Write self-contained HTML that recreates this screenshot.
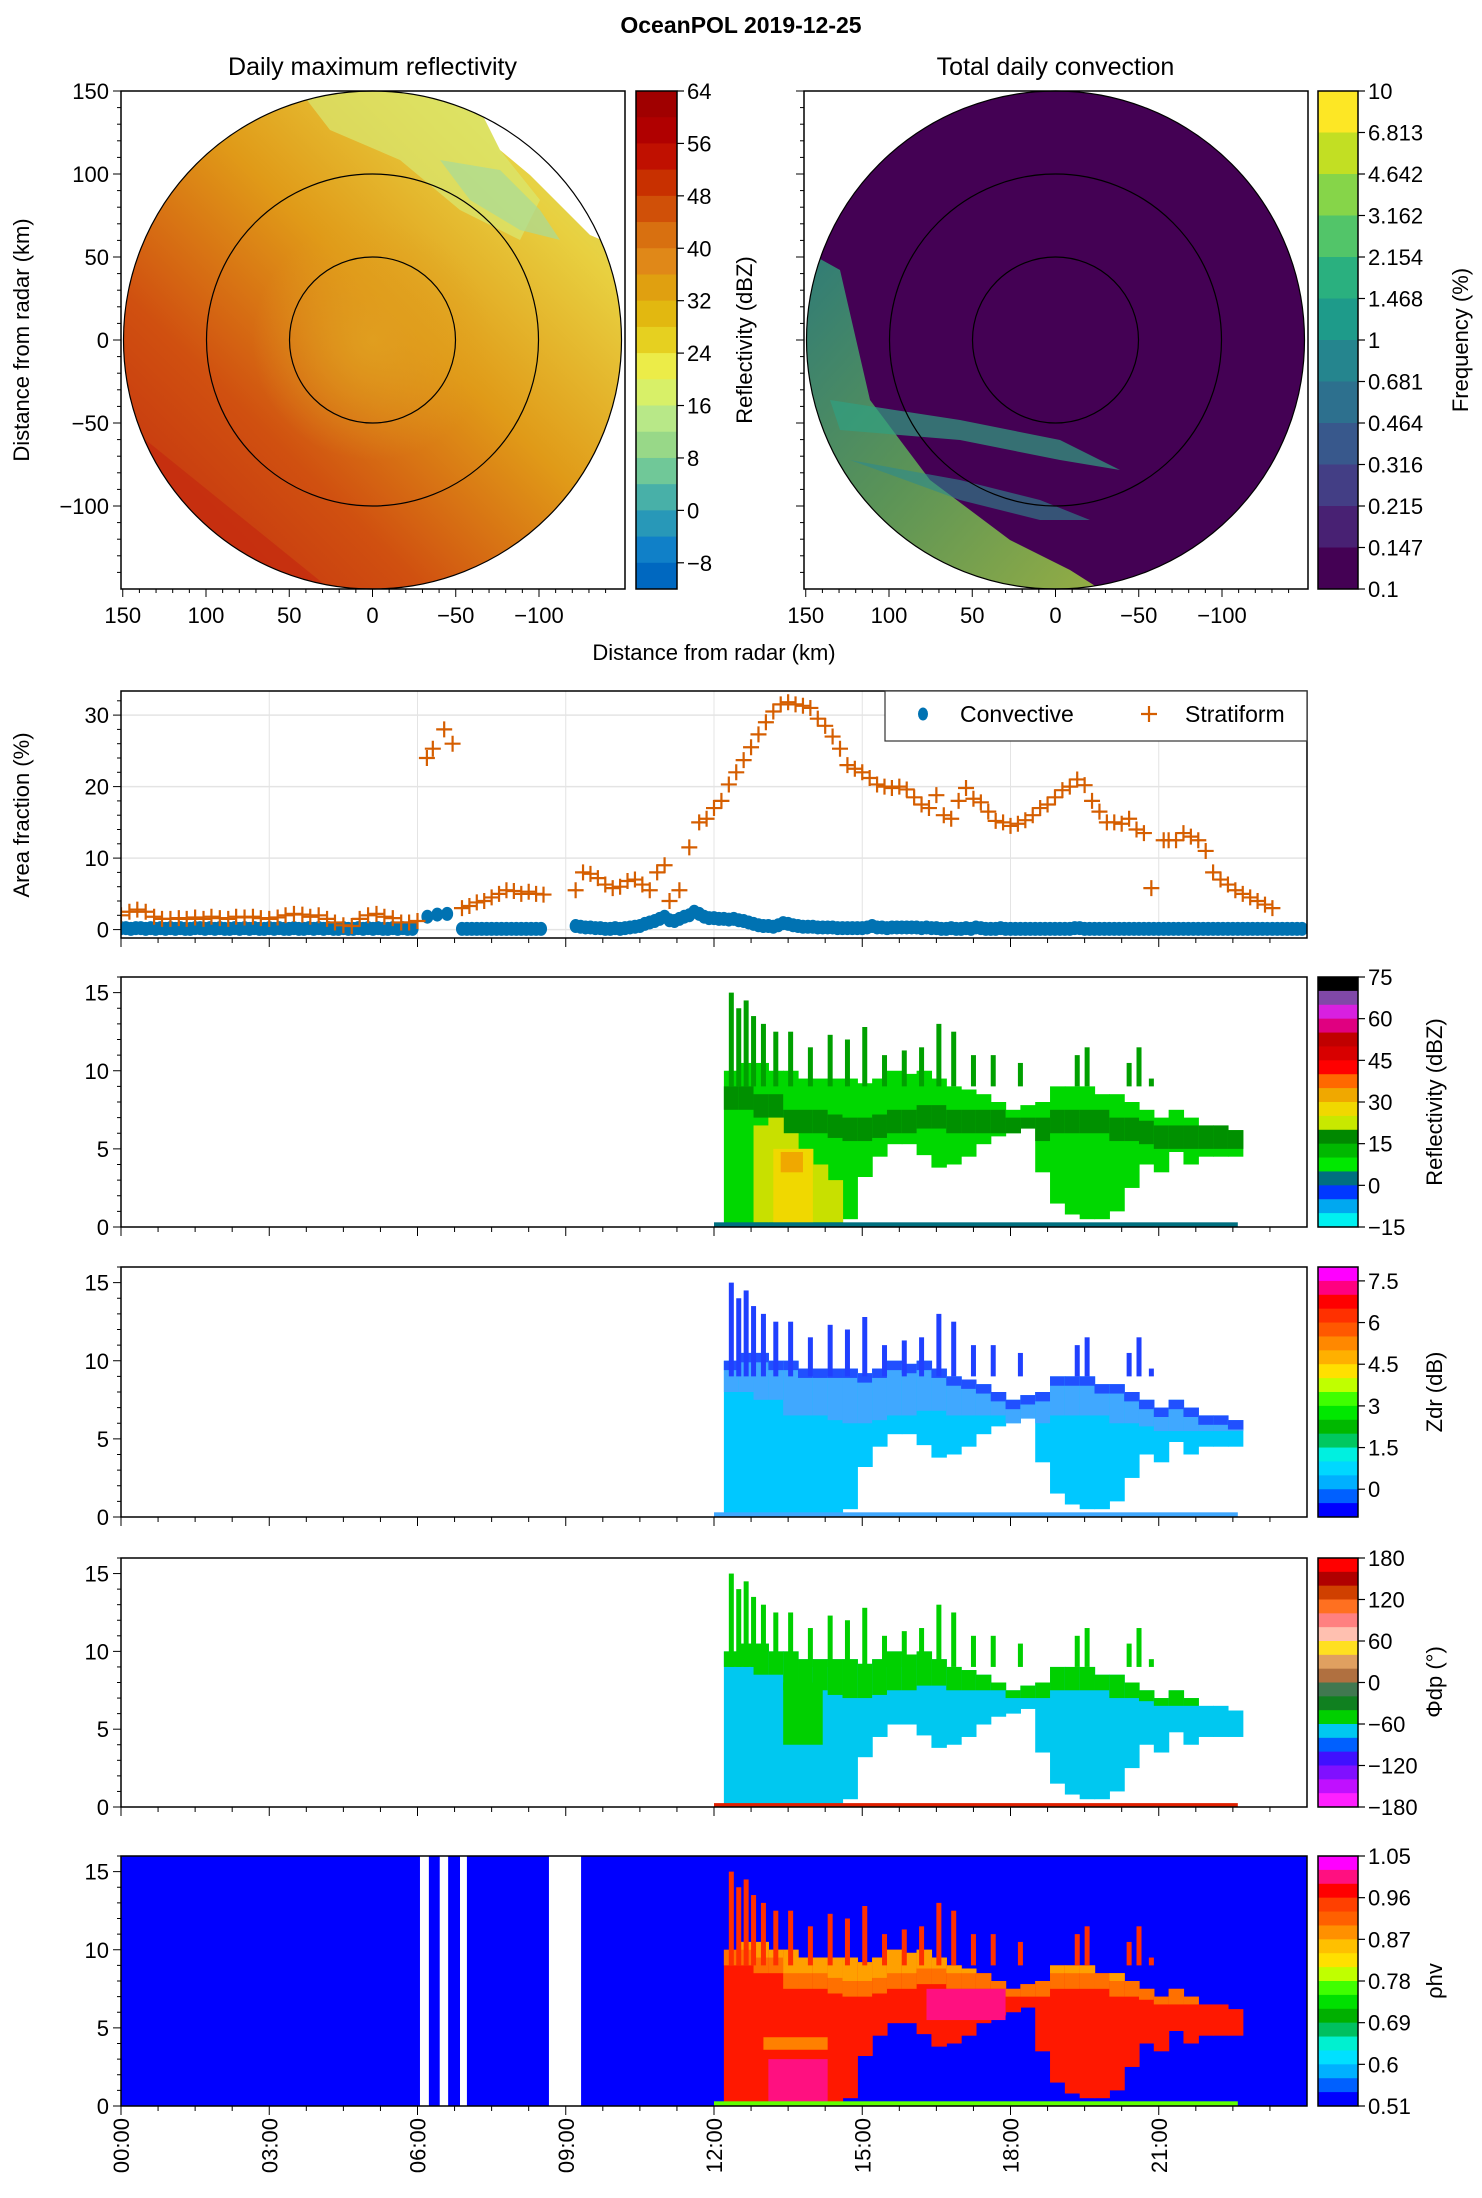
<!DOCTYPE html>
<html><head><meta charset="utf-8"><style>
html,body{margin:0;padding:0;background:#fff;}
svg{display:block;font-family:"Liberation Sans",sans-serif;}
</style></head><body>
<svg id="fig" width="1482" height="2198" viewBox="0 0 1482 2198" xmlns="http://www.w3.org/2000/svg">
<defs>
<clipPath id="clipL"><circle cx="372.5" cy="340" r="249"/></clipPath>
<clipPath id="clipR"><circle cx="1055.5" cy="340" r="249"/></clipPath>
<linearGradient id="gL" x1="0" y1="1" x2="1" y2="0">
<stop offset="0" stop-color="#c02810"/><stop offset="0.3" stop-color="#d05010"/><stop offset="0.55" stop-color="#e09a18"/><stop offset="0.8" stop-color="#e8d040"/><stop offset="1" stop-color="#d8e870"/>
</linearGradient>
<radialGradient id="gC" cx="0.5" cy="0.5" r="0.5"><stop offset="0" stop-color="#e0a020" stop-opacity="0.9"/><stop offset="1" stop-color="#e0a020" stop-opacity="0"/></radialGradient>
<linearGradient id="gR" x1="0" y1="0" x2="1" y2="1"><stop offset="0" stop-color="#2a9a80"/><stop offset="0.5" stop-color="#60b858"/><stop offset="1" stop-color="#a8d840"/></linearGradient>
</defs>
<g id="root"></g>
</svg>
<script>
// ---------- data ----------
const stratT=[0,0.17,0.33,0.5,0.67,0.83,1,1.17,1.33,1.5,1.67,1.83,2,2.17,2.33,2.5,2.67,2.83,3,3.17,3.33,3.5,3.67,3.83,4,4.17,4.33,4.5,4.67,4.83,5,5.17,5.33,5.5,5.67,5.83,6,6.19,6.31,6.54,6.71,6.9,7.05,7.2,7.35,7.5,7.65,7.8,7.95,8.1,8.25,8.4,8.55,9.2,9.35,9.5,9.65,9.8,9.95,10.1,10.25,10.4,10.55,10.7,10.85,11.0,11.1,11.3,11.5,11.7,11.85,12.0,12.15,12.3,12.45,12.6,12.75,12.9,13.05,13.2,13.35,13.5,13.65,13.8,13.95,14.1,14.25,14.4,14.55,14.7,14.85,15.0,15.15,15.3,15.45,15.6,15.75,15.9,16.05,16.2,16.35,16.5,16.65,16.8,16.95,17.1,17.25,17.4,17.55,17.7,17.85,18.0,18.15,18.3,18.45,18.6,18.75,18.9,19.05,19.2,19.35,19.5,19.65,19.8,19.95,20.1,20.25,20.4,20.55,20.7,20.85,21.1,21.2,21.35,21.5,21.65,21.8,21.95,22.1,22.25,22.4,22.55,22.7,22.85,23.0,23.15,23.3,23.45,23.6,23.75,23.9];
const stratV=[2,2.5,2.8,2.5,1.8,1.5,1.5,1.6,1.5,1.7,1.5,1.8,1.6,1.5,1.8,1.7,1.8,1.6,1.5,1.7,2.0,2.2,2.1,1.8,2.0,1.5,1.0,0.6,0.5,1.5,2.0,2.2,1.8,1.6,1.0,1.0,1.2,24,25.3,28,26,3,3.3,3.8,4,4.5,5,5.5,5.4,5,5.3,5,4.9,5.5,8,7.8,7.2,6.3,5.8,6,6.8,7,6.3,5.5,8,9,4,5.5,11.5,15,15.5,17,18,20.3,22,23.7,25.5,27.3,29,30.5,31.5,31.8,31.5,31.3,31,29.5,28.5,27,25.3,23,22.5,22,21.2,20.3,20,19.8,20,19.6,18.5,17.5,17,18.8,16,15.5,18,19.8,18.3,17.8,16.5,15.2,15,14.5,14.8,15.3,16,17,17.5,18.5,19.5,20,21,20.2,18,16.5,15,15,14.8,15.5,14,13.5,5.8,12.5,12.5,12.5,13.5,13,12.5,11,8,7,6.3,5.5,5,4.5,4,3.5,3];
const convT=[0,0.1,0.2,0.3,0.4,0.5,0.6,0.7,0.8,0.9,1,1.1,1.2,1.3,1.4,1.5,1.6,1.7,1.8,1.9,2,2.1,2.2,2.3,2.4,2.5,2.6,2.7,2.8,2.9,3,3.1,3.2,3.3,3.4,3.5,3.6,3.7,3.8,3.9,4,4.1,4.2,4.3,4.4,4.5,4.6,4.7,4.8,4.9,5,5.1,5.2,5.3,5.4,5.5,5.6,5.7,5.8,5.9,6.2,6.4,6.6,6.9,7.0,7.1,7.2,7.3,7.4,7.5,7.6,7.7,7.8,7.9,8.0,8.1,8.2,8.3,8.4,8.5,9.2,9.3,9.4,9.5,9.6,9.7,9.8,9.9,10.0,10.1,10.2,10.3,10.4,10.5,10.6,10.7,10.8,10.9,11.0,11.1,11.2,11.3,11.4,11.5,11.6,11.7,11.8,11.9,12.0,12.1,12.2,12.3,12.4,12.5,12.6,12.7,12.8,12.9,13.0,13.1,13.2,13.3,13.4,13.5,13.6,13.7,13.8,13.9,14.0,14.1,14.2,14.3,14.4,14.5,14.6,14.7,14.8,14.9,15.0,15.1,15.2,15.3,15.4,15.5,15.6,15.7,15.8,15.9,16.0,16.1,16.2,16.3,16.4,16.5,16.6,16.7,16.8,16.9,17.0,17.1,17.2,17.3,17.4,17.5,17.6,17.7,17.8,17.9,18.0,18.1,18.2,18.3,18.4,18.5,18.6,18.7,18.8,18.9,19.0,19.1,19.2,19.3,19.4,19.5,19.6,19.7,19.8,19.9,20.0,20.1,20.2,20.3,20.4,20.5,20.6,20.7,20.8,20.9,21.0,21.1,21.2,21.3,21.4,21.5,21.6,21.7,21.8,21.9,22.0,22.1,22.2,22.3,22.4,22.5,22.6,22.7,22.8,22.9,23.0,23.1,23.2,23.3,23.4,23.5,23.6,23.7,23.8,23.9];
const convV=[0.2,0.2,0.1,0.2,0.2,0.1,0.2,0.1,0.2,0.1,0.2,0.1,0.2,0.1,0.1,0.2,0.2,0.1,0.2,0.1,0.2,0.1,0.1,0.2,0.1,0.2,0.1,0.2,0.1,0.1,0.2,0.1,0.2,0.1,0.1,0.2,0.1,0.1,0.2,0.1,0.2,0.1,0.2,0.1,0.1,0.2,0.1,0.1,0.2,0.1,0.2,0.1,0.2,0.1,0.1,0.2,0.1,0.2,0.1,0.1,1.8,2.1,2.2,0.1,0.1,0.1,0.1,0.1,0.1,0.1,0.1,0.1,0.1,0.1,0.1,0.1,0.1,0.1,0.1,0.1,0.5,0.4,0.3,0.3,0.2,0.2,0.1,0.1,0.2,0.1,0.2,0.3,0.4,0.5,0.8,1.0,1.2,1.5,1.8,1.3,1.2,1.5,1.8,2.0,2.5,2.2,1.8,1.6,1.6,1.5,1.5,1.4,1.5,1.3,1.2,1.0,0.8,0.6,0.5,0.5,0.4,0.6,0.9,0.8,0.6,0.5,0.4,0.4,0.4,0.3,0.3,0.3,0.3,0.2,0.2,0.2,0.2,0.2,0.2,0.3,0.5,0.3,0.3,0.2,0.3,0.3,0.3,0.3,0.3,0.3,0.2,0.3,0.2,0.2,0.1,0.1,0.2,0.1,0.1,0.2,0.1,0.3,0.2,0.1,0.1,0.1,0.2,0.1,0.1,0.1,0.1,0.1,0.1,0.1,0.1,0.1,0.1,0.1,0.1,0.1,0.1,0.2,0.2,0.1,0.1,0.1,0.1,0.1,0.1,0.1,0.1,0.1,0.1,0.1,0.1,0.1,0.1,0.1,0.1,0.1,0.1,0.1,0.1,0.1,0.1,0.1,0.1,0.1,0.1,0.1,0.1,0.1,0.1,0.1,0.1,0.1,0.1,0.1,0.1,0.1,0.1,0.1,0.1,0.1,0.1,0.1,0.1,0.1,0.1,0.1];
const echoT=[12.2,12.5,12.8,13.1,13.4,13.7,14.0,14.3,14.6,14.9,15.2,15.5,15.8,16.1,16.4,16.7,17.0,17.3,17.6,17.9,18.2,18.5,18.8,19.1,19.4,19.7,20.0,20.3,20.6,20.9,21.2,21.5,21.8,22.1,22.4];
const echoTop=[10,10.5,10.5,10,10,9.5,9.5,9.5,9.5,9.2,9.5,10,9.8,10,9.5,9,8.8,8.5,8,7.5,7.8,8,9,9,9,8.5,8.5,8,7.5,7,7.5,7,6.5,6.5,6.2];
const echoBase=[0,0,0,0,0,0,0,0,0.5,3.2,4.5,5.3,5.3,4.6,3.8,4,4.5,5.3,5.8,6,6.3,3.5,1.5,0.8,0.5,0.5,1,2.5,4,3.5,4.8,4,4.5,4.5,4.5];
const splitH=[9,9,8.5,8.5,7.5,7.5,7.5,7.2,7,7,7.2,7.5,7.5,7.8,7.8,7.5,7.5,7.5,7.5,7,7,7,7.5,7.5,7.5,7.5,7,7,6.8,6.5,6.5,6.5,6.5,6.5,6.5];
const coreT=[12.8,13.1,13.4,13.7,14.0,14.3];
const coreTop=[6.5,7,6,5,4,3];
const spikeT=[12.3,12.45,12.6,12.75,12.95,13.2,13.5,13.9,14.3,14.65,15.0,15.4,15.8,16.15,16.5,16.8,17.2,17.6,18.15,19.3,19.5,20.35,20.55,20.8];
const spikeH=[15,14,14.5,13.5,13,12.5,12.5,11.5,12.3,12,12.8,11,11.3,11.5,13,12.5,11,11,10.5,11,11.5,10.5,11.5,9.5];
const gapT0=[6.05,6.45,6.86,8.66];
const gapT1=[6.23,6.62,7.0,9.31];
// colorbars
const cbDBZ=['#a00000','#b00000','#c01000','#c83000','#d05008','#d87010','#e08818','#e0a010','#e2b810','#e6d020','#ecec48','#d8f068','#b8e888','#98d888','#70c898','#48b0a8','#2898b8','#1080c8','#0068c0'];
const cbDBZlab=['64','56','48','40','32','24','16','8','0','−8'];
const cbFreq=['#fde725','#c2df23','#86d549','#52c569','#2ab07f','#1e9b8a','#25858e','#2d708e','#38588c','#433e85','#482173','#440154'];
const cbFreqLab=['10','6.813','4.642','3.162','2.154','1.468','1','0.681','0.464','0.316','0.215','0.147','0.1'];
const cbRef=['#000000','#8048a8','#d820e0','#e00080','#c00000','#d80000','#ff0000','#ff6800','#f0a800','#f0d800','#c8e800','#008800','#00b800','#00e800','#007080','#0038ff','#00a8f0','#00f0f0'];
const cbRefLab=['75','60','45','30','15','0','−15'];
const cbZdr=['#ff00ff','#ff0080','#ff0000','#ff3000','#ff5800','#ff8800','#ffb000','#ffe000','#c0ff00','#40ff00','#00e800','#00b800','#00c860','#00f0e0','#00d8ff','#00b0ff','#0060ff','#0000ff'];
const cbZdrLab=['7.5','6','4.5','3','1.5','0'];
const cbPhi=['#ff0000','#b00000','#d04000','#ff7020','#ff8080','#ffc0b0','#ffe020','#e0a060','#b07040','#407850','#108020','#00d000','#00c8f0','#0060ff','#4010ff','#8010ff','#c010ff','#ff20ff'];
const cbPhiLab=['180','120','60','0','−60','−120','−180'];
const cbRho=['#ff00ff','#ff1080','#ff0000','#ff4000','#ff6000','#ff9000','#ffc000','#ffe000','#c0ff00','#40ff00','#00e000','#00b000','#00c060','#00f0d0','#00e0ff','#00b0ff','#0060ff','#0000ff'];
const cbRhoLab=['1.05','0.96','0.87','0.78','0.69','0.6','0.51'];
const timeLab=['00:00','03:00','06:00','09:00','12:00','15:00','18:00','21:00'];

// ---------- helpers ----------
const NS='http://www.w3.org/2000/svg';
const root=document.getElementById('root');
function mk(tag,attrs,parent){const e=document.createElementNS(NS,tag);for(const k in attrs)e.setAttribute(k,attrs[k]);(parent||root).appendChild(e);return e;}
function txt(s,x,y,size,anchor,parent,extra){const t=mk('text',Object.assign({x:x,y:y,'font-size':size,'text-anchor':anchor||'middle',fill:'#000'},extra||{}),parent);t.textContent=s;return t;}
const X0=121,X1=1307;
function xT(h){return X0+h*(X1-X0)/24;}

let t=txt('OceanPOL 2019-12-25',741,33,23,'middle',null,{'font-weight':'bold'});



// ---------- radar panels ----------
function radarAxes(x0,cx,title,nm){
  const g=mk('g',{});
  
  
  const tt=txt(title,cx,75,25,'middle',g);
  
  
  return g;
}
function radarFrame(g,x0,cx,showY){
  mk('circle',{cx:cx,cy:340,r:249,fill:'none',stroke:'#000','stroke-width':1.2},g);
  mk('circle',{cx:cx,cy:340,r:166,fill:'none',stroke:'#000','stroke-width':1.2},g);
  mk('circle',{cx:cx,cy:340,r:83,fill:'none',stroke:'#000','stroke-width':1.2},g);
  mk('rect',{x:x0,y:91,width:504,height:498,fill:'none',stroke:'#000','stroke-width':1.5},g);
  const k=1.665;
  for(let v=-140;v<=150;v+=10){
    const y=340-v*1.66;const major=v%50===0;
    mk('line',{x1:x0,x2:x0-(major?8:4),y1:y,y2:y,stroke:'#000','stroke-width':1},g);
    if(major&&showY){txt(v<0?'−'+(-v):String(v),x0-12,y+8,22,'end',g);}
    const xx=cx-v*k;
    if(xx>=x0-1&&xx<=x0+505){mk('line',{x1:xx,x2:xx,y1:589,y2:589+(major?8:4),stroke:'#000','stroke-width':1},g);
      if(major&&v>-150)txt(v<0?'−'+(-v):String(v),xx,623,22,'middle',g);}
  }
}
const gL=radarAxes(121,372.5,'Daily maximum reflectivity','reflectivity-map');
const imL=mk('g',{'clip-path':'url(#clipL)'},gL);
mk('rect',{x:121,y:91,width:504,height:498,fill:'url(#gL)'},imL);
mk('circle',{cx:372.5,cy:340,r:120,fill:'url(#gC)'},imL);
mk('path',{d:'M121,420 L121,589 L330,589 Z',fill:'#c42a10',opacity:0.7},imL);
mk('path',{d:'M300,91 L470,91 L500,150 L540,200 L520,240 L460,210 L400,160 L330,130 Z',fill:'#d8e870',opacity:0.7},imL);
mk('path',{d:'M440,160 L500,170 L540,210 L560,240 L520,230 L470,200 Z',fill:'#a8dc98',opacity:0.7},imL);
mk('path',{d:'M465,91 L480,110 L500,150 L530,175 L560,205 L590,235 L625,250 L625,91 Z',fill:'#ffffff'},imL);
radarFrame(gL,121,372.5,true);
const gR=radarAxes(804,1055.5,'Total daily convection','convection-map');
const imR=mk('g',{'clip-path':'url(#clipR)'},gR);
mk('rect',{x:804,y:91,width:504,height:498,fill:'#440154'},imR);
mk('path',{d:'M804,250 L840,270 L870,400 L930,480 L1010,540 L1070,570 L1100,589 L804,589 Z',fill:'url(#gR)',opacity:0.8},imR);
mk('path',{d:'M830,400 L960,420 L1060,440 L1120,470 L1060,460 L960,440 L840,430 Z',fill:'#30a080',opacity:0.7},imR);
mk('path',{d:'M850,460 L960,480 L1040,500 L1090,520 L1040,520 L960,500 Z',fill:'#2d8a8e',opacity:0.6},imR);
mk('path',{d:'M815,470 L850,540 L920,580 L980,589 L900,560 L840,510 Z',fill:'#c0dc30',opacity:0.6},imR);
radarFrame(gR,804,1055.5,false);
t=txt('Distance from radar (km)',714,660,22,'middle');


t=txt('Distance from radar (km)',0,0,22,'middle',null,{transform:'translate(29,340) rotate(-90)'});



// ---------- colorbars ----------
function colorbar(x,y0,y1,w,cols,nm){
  const g=mk('g',{});
  
  
  const h=(y1-y0)/cols.length;
  cols.forEach((c,i)=>{mk('rect',{x:x,y:y0+i*h,width:w,height:h+0.5,fill:c},g);});
  mk('rect',{x:x,y:y0,width:w,height:y1-y0,fill:'none',stroke:'#000','stroke-width':1.5},g);
  return g;
}
function cbLabels(g,x,w,ys,labs){
  labs.forEach((l,i)=>{mk('line',{x1:x+w,x2:x+w+7,y1:ys[i],y2:ys[i],stroke:'#000','stroke-width':1.2},g);txt(l,x+w+10,ys[i]+8,22,'start',g);});
}
let cb=colorbar(636,91,589,41,cbDBZ,'reflectivity-colorbar');
cbLabels(cb,636,41,cbDBZlab.map((l,i)=>91+i*(498/19)*2),cbDBZlab);
txt('Reflectivity (dBZ)',0,0,22,'middle',cb,{transform:'translate(752,340) rotate(-90)'});
cb=colorbar(1318,91,589,40,cbFreq,'frequency-colorbar');
cbLabels(cb,1318,40,cbFreqLab.map((l,i)=>91+i*498/12),cbFreqLab);
txt('Frequency (%)',0,0,22,'middle',cb,{transform:'translate(1468,340) rotate(-90)'});

// ---------- time series panel ----------
const P=[[691,938],[977,1227],[1267,1517],[1558,1807],[1856,2106]];
function timeAxis(g,b,showLab){
  for(let h=0;h<24;h+=0.75){const x=xT(h);const major=h%3===0;
    mk('line',{x1:x,x2:x,y1:b,y2:b+(major?9:5),stroke:'#000','stroke-width':1},g);}
  if(showLab)timeLab.forEach((l,i)=>{txt(l,0,0,22,'end',g,{transform:'translate('+(xT(i*3)+8)+','+(b+12)+') rotate(-90)'});});
}
const g1=mk('g',{});


const A0=929.6,AK=7.15;function yA(v){return A0-v*AK;}
for(let h=3;h<24;h+=3)mk('line',{x1:xT(h),x2:xT(h),y1:691,y2:938,stroke:'#e4e4e4','stroke-width':1},g1);
for(let v=0;v<=30;v+=10)mk('line',{x1:X0,x2:X1,y1:yA(v),y2:yA(v),stroke:'#e4e4e4','stroke-width':1.5},g1);
for(let v=-1;v<=33;v+=1){const major=v%10===0;if(v%2!==0&&!major)continue;
  mk('line',{x1:X0,x2:X0-(major?8:4),y1:yA(v),y2:yA(v),stroke:'#000','stroke-width':1},g1);
  if(major)txt(String(v),X0-12,yA(v)+8,22,'end',g1);}
const gClip=mk('clipPath',{id:'clipTS'},g1);mk('rect',{x:X0,y:691,width:X1-X0,height:247},gClip);
const gPts=mk('g',{'clip-path':'url(#clipTS)'},g1);
convT.forEach((h,i)=>{const c=mk('ellipse',{cx:xT(h),cy:yA(convV[i]),rx:6,ry:7,fill:'#0072b2'},gPts);
  
  });
stratT.forEach((h,i)=>{const x=xT(h),y=yA(stratV[i]);
  const p=mk('path',{d:'M'+(x-8)+','+y+'h16M'+x+','+(y-8)+'v16',stroke:'#d55e00','stroke-width':2.2},gPts);
  
  });
mk('rect',{x:X0,y:691,width:X1-X0,height:247,fill:'none',stroke:'#000','stroke-width':1.5},g1);
timeAxis(g1,938,false);
const lg=mk('g',{},g1);


mk('rect',{x:885,y:691,width:422,height:50,fill:'#fff',stroke:'#333','stroke-width':1.2},lg);
mk('ellipse',{cx:923,cy:714,rx:5,ry:6.5,fill:'#0072b2'},lg);
txt('Convective',960,722,23,'start',lg);
mk('path',{d:'M1141,714h16M1149,706v16',stroke:'#d55e00','stroke-width':2.2},lg);
txt('Stratiform',1185,722,23,'start',lg);
t=txt('Area fraction (%)',0,0,22,'middle',g1,{transform:'translate(29,815) rotate(-90)'});



// ---------- time-height panels ----------
function hPanel(idx,nm){
  const [top,bot]=P[idx];const g=mk('g',{});
  
  
  const k=(bot-top)/16;const yH=v=>bot-v*k;
  return {g,yH,top,bot};
}
function colW(i){return xT(echoT[i]+0.3)-xT(echoT[i])+0.6;}
function drawEcho(pp,colorFn){
  echoT.forEach((h,i)=>{colorFn(pp,i,xT(h),colW(i));});
  spikeT.forEach((h,i)=>{mk('rect',{x:xT(h),y:pp.yH(spikeH[i]),width:5,height:pp.yH(9)-pp.yH(spikeH[i]),fill:pp.spike},pp.g);});
}
function band(pp,x,w,lo,hi,c){if(hi<=lo)return;mk('rect',{x:x,y:pp.yH(hi),width:w,height:pp.yH(lo)-pp.yH(hi),fill:c},pp.g);}
function frame(pp,showLab){
  for(let v=0;v<=16;v++){const major=v%5===0;mk('line',{x1:X0,x2:X0-(major?8:4),y1:pp.yH(v),y2:pp.yH(v),stroke:'#000','stroke-width':1},pp.g);
    if(major)txt(String(v),X0-12,pp.yH(v)+8,22,'end',pp.g);}
  mk('rect',{x:X0,y:pp.top,width:X1-X0,height:pp.bot-pp.top,fill:'none',stroke:'#000','stroke-width':1.5},pp.g);
  timeAxis(pp.g,pp.bot,showLab);
}
let pp=hPanel(1,'reflectivity-height-chart');pp.spike='#00a000';
drawEcho(pp,(p,i,x,w)=>{band(p,x,w,echoBase[i],echoTop[i],'#00d800');band(p,x,w,Math.max(echoBase[i],splitH[i]-1.5),Math.min(echoTop[i],splitH[i]),'#009000');});
coreT.forEach((h,i)=>{band(pp,xT(h),xT(h+0.3)-xT(h)+0.6,0.3,coreTop[i],'#c8e000');});
band(pp,xT(13.2),xT(14.0)-xT(13.2),0.3,5,'#f0d800');band(pp,xT(13.35),xT(13.8)-xT(13.35),3.5,4.8,'#f0a800');
band(pp,xT(12),xT(22.6)-xT(12),0,0.3,'#007080');
frame(pp,false);
cb=colorbar(1318,977,1227,40,cbRef,'reflectivity-height-colorbar');
cbLabels(cb,1318,40,cbRefLab.map((l,i)=>977+i*250/6),cbRefLab);
txt('Reflectivity (dBZ)',0,0,22,'middle',cb,{transform:'translate(1442,1102) rotate(-90)'});
pp=hPanel(2,'zdr-height-chart');pp.spike='#2040ff';
drawEcho(pp,(p,i,x,w)=>{band(p,x,w,echoBase[i],echoTop[i],'#00c8ff');band(p,x,w,Math.max(echoBase[i],splitH[i]-1),echoTop[i],'#40a8ff');band(p,x,w,echoTop[i]-0.6,echoTop[i],'#2050ff');});
band(pp,xT(12),xT(22.6)-xT(12),0,0.3,'#40a8ff');
frame(pp,false);
cb=colorbar(1318,1267,1517,40,cbZdr,'zdr-colorbar');
cbLabels(cb,1318,40,cbZdrLab.map((l,i)=>1267+250/18+i*250/6),cbZdrLab);
txt('Zdr (dB)',0,0,22,'middle',cb,{transform:'translate(1442,1392) rotate(-90)'});
pp=hPanel(3,'phidp-height-chart');pp.spike='#00d000';
drawEcho(pp,(p,i,x,w)=>{band(p,x,w,echoBase[i],echoTop[i],'#00c8f0');band(p,x,w,Math.max(echoBase[i],splitH[i]),echoTop[i],'#00d000');});
band(pp,xT(13.4),xT(14.2)-xT(13.4),4,8,'#00d000');
band(pp,xT(12),xT(22.6)-xT(12),0,0.25,'#e02000');
frame(pp,false);
cb=colorbar(1318,1558,1807,40,cbPhi,'phidp-colorbar');
cbLabels(cb,1318,40,cbPhiLab.map((l,i)=>1558+i*249/6),cbPhiLab);
txt('Φdp (°)',0,0,22,'middle',cb,{transform:'translate(1442,1682) rotate(-90)'});
pp=hPanel(4,'rhohv-height-chart');pp.spike='#ff3000';
mk('rect',{x:X0,y:pp.top,width:X1-X0,height:pp.bot-pp.top,fill:'#0000ff'},pp.g);
gapT0.forEach((h,i)=>{const r=mk('rect',{x:xT(h),y:pp.top,width:xT(gapT1[i])-xT(h),height:pp.bot-pp.top,fill:'#fff'},pp.g);
  
  });
drawEcho(pp,(p,i,x,w)=>{band(p,x,w,echoBase[i],echoTop[i],'#ff1800');band(p,x,w,Math.max(echoBase[i],splitH[i]),echoTop[i],'#ff7000');band(p,x,w,Math.max(echoBase[i],splitH[i]+1),echoTop[i],'#ffa000');});
band(pp,xT(13.1),xT(14.3)-xT(13.1),0,3,'#ff1080');band(pp,xT(13.0),xT(14.3)-xT(13.0),3.6,4.4,'#ff8000');
band(pp,xT(16.3),xT(17.9)-xT(16.3),5.5,7.5,'#ff1080');
band(pp,xT(12),xT(22.6)-xT(12),0,0.3,'#60ff00');
frame(pp,true);
cb=colorbar(1318,1856,2106,40,cbRho,'rhohv-colorbar');
cbLabels(cb,1318,40,cbRhoLab.map((l,i)=>1856+i*250/6),cbRhoLab);
txt('ρhv',0,0,22,'middle',cb,{transform:'translate(1442,1981) rotate(-90)'});
</script>
</body></html>
